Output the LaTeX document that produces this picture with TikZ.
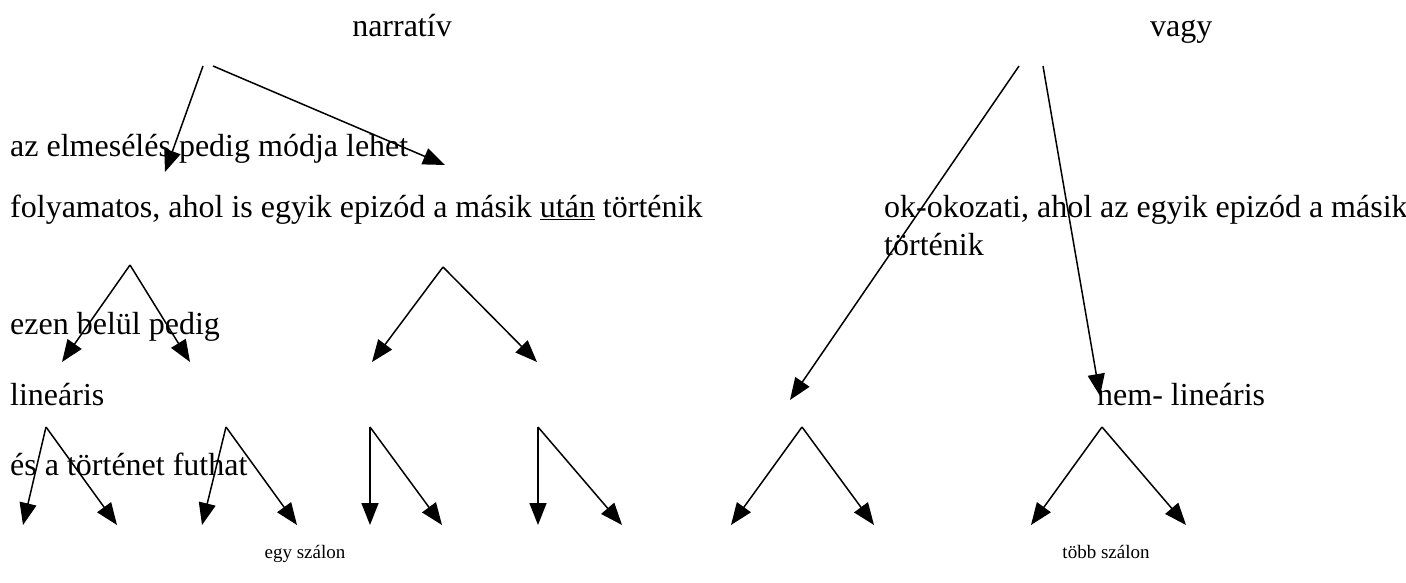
\documentclass[tikz,border=0pt]{standalone}
\usepackage{fontspec}
\setmainfont{Liberation Serif}
\usetikzlibrary{arrows.meta}
\begin{document}
\begin{tikzpicture}[x=1pt,y=-1pt,
  lbl/.style={inner sep=0pt,anchor=base west,font=\fontsize{32}{38}\selectfont},
  small/.style={inner sep=0pt,anchor=base,font=\fontsize{19}{22}\selectfont},
  arr/.style={line width=1.5pt,-{Triangle[length=22pt,width=17pt]}}]
\useasboundingbox (0,0) rectangle (1406,583);
% texts
\node[lbl,anchor=base] (narr) at (402,37) {narratív};
\node[lbl] (vagy) at (1150,37) {vagy};
\node[lbl] (mod) at (10,157) {az elmesélés pedig módja lehet};
\node[lbl] (foly) at (10,217) {folyamatos, ahol is egyik epizód a másik \underline{után} történik};
\node[lbl] (ok) at (884,217) {ok-okozati, ahol az egyik epizód a másik};
\node[lbl] (ok2) at (884,255) {történik};
\node[lbl] (ezen) at (10,334) {ezen belül pedig};
\node[lbl] (lin) at (10,405) {lineáris};
\node[lbl] (nlin) at (1097,405) {nem- lineáris};
\node[lbl] (fut) at (10,475) {és a történet futhat};
\node[small] (egy) at (305,558) {egy szálon};
\node[small] (tobb) at (1106,558) {több szálon};
% top level arrows
\coordinate (nA) at (203,66);  \coordinate (nAt) at (165,172);
\coordinate (nB) at (213,66);  \coordinate (nBt) at (445,165);
\coordinate (vA) at (1019,66); \coordinate (vAt) at (790,400);
\coordinate (vB) at (1043,66); \coordinate (vBt) at (1100,396);
\draw[arr] (nA) -- (nAt);
\draw[arr] (nB) -- (nBt);
\draw[arr] (vA) -- (vAt);
\draw[arr] (vB) -- (vBt);
% second level forks
\coordinate (p1) at (130,265); \coordinate (p1l) at (62,362); \coordinate (p1r) at (190,362);
\coordinate (p2) at (443,267); \coordinate (p2l) at (372,362); \coordinate (p2r) at (537,362);
\draw[arr] (p1) -- (p1l); \draw[arr] (p1) -- (p1r);
\draw[arr] (p2) -- (p2l); \draw[arr] (p2) -- (p2r);
% third level forks
\coordinate (q1) at (46,427);  \coordinate (q1l) at (23,525);  \coordinate (q1r) at (117,525);
\coordinate (q2) at (226,427); \coordinate (q2l) at (202,525); \coordinate (q2r) at (297,525);
\coordinate (q3) at (370,427); \coordinate (q3l) at (370,525); \coordinate (q3r) at (442,525);
\coordinate (q4) at (538,427); \coordinate (q4l) at (538,525); \coordinate (q4r) at (622,525);
\coordinate (q5) at (802,427); \coordinate (q5l) at (731,525); \coordinate (q5r) at (874,525);
\coordinate (q6) at (1102,427); \coordinate (q6l) at (1031,525); \coordinate (q6r) at (1186,525);
\foreach \q in {q1,q2,q3,q4,q5,q6}{
  \draw[arr] (\q) -- (\q l);
  \draw[arr] (\q) -- (\q r);
}
\end{tikzpicture}
\end{document}
